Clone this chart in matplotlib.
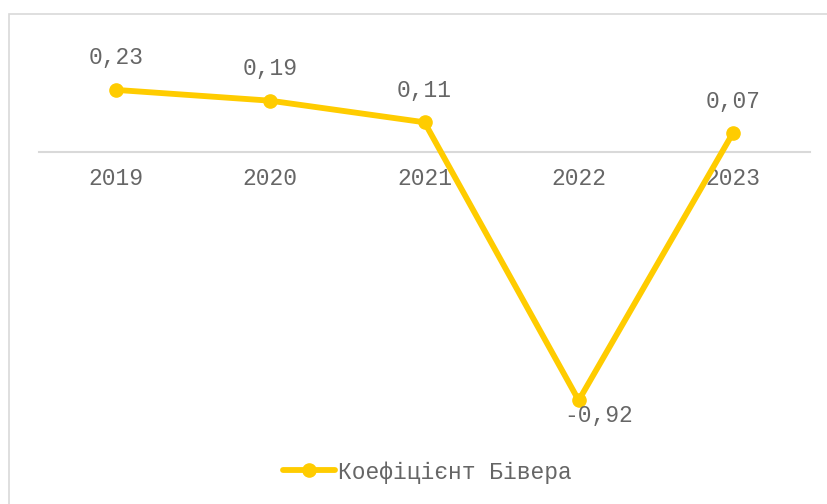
import matplotlib
matplotlib.use("Agg")
import matplotlib.pyplot as plt
from matplotlib.patches import Rectangle

years = ["2019", "2020", "2021", "2022", "2023"]
values = [0.23, 0.19, 0.11, -0.92, 0.07]
labels = ["0,23", "0,19", "0,11", "-0,92", "0,07"]
series_name = "Коефіцієнт Бівера"

W, H = 827, 504
fig = plt.figure(figsize=(W / 100, H / 100), dpi=100)
plt.rcParams['font.family'] = ['Liberation Mono', 'DejaVu Sans']

color = '#FFCC00'
text_color = '#666666'
fs = 16.5

# frame (only top/left visible in reference)
fig.patches.append(Rectangle((9 / W, -0.1), 1.2, 1 - 14 / H + 0.1,
                             transform=fig.transFigure, fill=False,
                             edgecolor='#D9D9D9', lw=1.2))

ax_left, ax_right = 39 / W, 810 / W
ax_top, ax_bot = 1 - 44 / H, 1 - 422 / H
ax = fig.add_axes([ax_left, ax_bot, ax_right - ax_left, ax_top - ax_bot])

for s in ['top', 'left', 'right']:
    ax.spines[s].set_visible(False)
ax.spines['bottom'].set_position(('data', 0))
ax.spines['bottom'].set_color('#D9D9D9')
ax.spines['bottom'].set_linewidth(1.5)
ax.spines['bottom'].set_zorder(1)

x = list(range(len(years)))
ax.plot(x, values, color=color, lw=4.2, marker='o', markersize=9.5,
        solid_capstyle='round', zorder=3, label=series_name)

ax.set_xlim(-0.5, len(years) - 0.5)
ax.set_ylim(-1.0, 0.4)
ax.set_xticks(x)
ax.set_xticklabels(years)
ax.tick_params(axis='x', length=0, pad=10.5, labelsize=fs, labelcolor=text_color)
ax.set_yticks([])

for i, (v, lab) in enumerate(zip(values, labels)):
    if v >= 0:
        off = (0, 23)
    else:
        off = (14.5, -11)
    ax.annotate(lab, (i, v), xytext=off, textcoords='offset points',
                ha='center', va='center', fontsize=fs, color=text_color,
                zorder=4)

fig.legend(loc='center', bbox_to_anchor=(427 / W, 1 - 472 / H), frameon=False,
           fontsize=fs, handlelength=2.3, handletextpad=0.1,
           labelcolor=text_color)

fig.savefig('out.png', dpi=100)
